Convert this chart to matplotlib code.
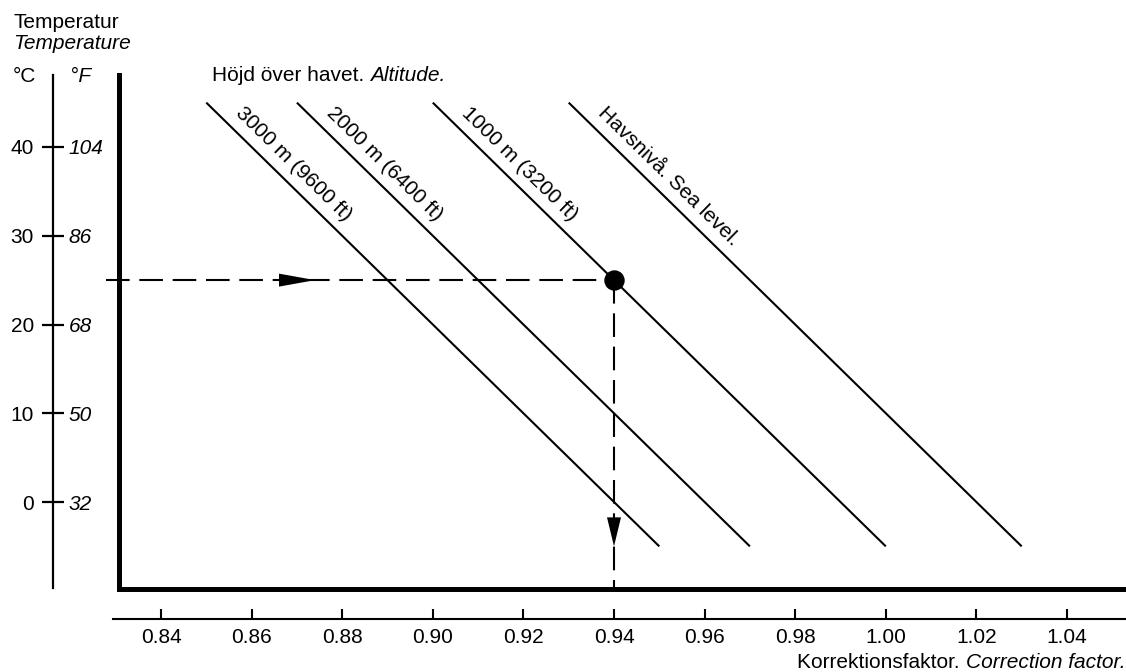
import math
import matplotlib
matplotlib.use("Agg")
import matplotlib.pyplot as plt
import matplotlib.transforms as mtransforms
from matplotlib.patches import Polygon

plt.rcParams['font.family'] = ['Liberation Sans', 'DejaVu Sans']
plt.rcParams['lines.scale_dashes'] = False

# ---- data -------------------------------------------------------------
altitude_labels = ["3000 m (9600 ft)", "2000 m (6400 ft)",
                   "1000 m (3200 ft)", "Havsnivå. Sea level."]
line_temps = [45, -5]                      # °C at the two ends of each line
factor_at_warm = [0.85, 0.87, 0.90, 0.93]  # correction factor at 45 °C
factor_at_cold = [0.95, 0.97, 1.00, 1.03]  # correction factor at -5 °C

celsius_ticks = [0, 10, 20, 30, 40]
fahrenheit_ticks = [32, 50, 68, 86, 104]
factor_ticks = [0.84, 0.86, 0.88, 0.90, 0.92, 0.94, 0.96, 0.98, 1.00, 1.02, 1.04]
factor_tick_labels = ["0.84", "0.86", "0.88", "0.90", "0.92", "0.94",
                      "0.96", "0.98", "1.00", "1.02", "1.04"]

# worked example: 25 °C at 1000 m gives a factor of 0.94
example_temp = 25
example_factor = 0.94
arrow_tip_factor = 0.874
arrow_tip_temp = -5

# ---- layout ------------------------------------------------------------
W, H, DPI = 1126, 672, 100
FONT = 15


def fx(px):
    return px / W


def fy(py):
    return 1 - py / H


fig = plt.figure(figsize=(W / DPI, H / DPI), dpi=DPI)

# scale: pixels per unit of correction factor / per °C
px_per_factor = 4530.0
px_per_deg = 8.875
ref_px_x, ref_factor = 161, 0.84
ref_px_y, ref_temp = 502, 0

box_left, box_right, box_top, box_bottom = 119, 1126, 75, 589
xlim = (ref_factor + (box_left - ref_px_x) / px_per_factor,
        ref_factor + (box_right - ref_px_x) / px_per_factor)
ylim = (ref_temp + (ref_px_y - box_bottom) / px_per_deg,
        ref_temp + (ref_px_y - box_top) / px_per_deg)

ax = fig.add_axes([fx(box_left), fy(box_bottom),
                   fx(box_right) - fx(box_left), fy(box_top) - fy(box_bottom)])
ax.set_xlim(*xlim)
ax.set_ylim(*ylim)
ax.patch.set_alpha(0)
ax.set_xticks([])
ax.set_yticks([])
for side in ("top", "right"):
    ax.spines[side].set_visible(False)
for side in ("left", "bottom"):
    ax.spines[side].set_linewidth(3.6)
    ax.spines[side].set_capstyle("projecting")

# altitude lines with their labels along them
for lab, fw, fc in zip(altitude_labels, factor_at_warm, factor_at_cold):
    ax.plot([fw, fc], line_temps, color="black", lw=1.5, solid_capstyle="butt")
    p0 = ax.transData.transform((fw, line_temps[0]))
    p1 = ax.transData.transform((fc, line_temps[1]))
    theta = math.atan2(p1[1] - p0[1], p1[0] - p0[0])
    along, perp = 28, 12  # pixels
    dx = along * math.cos(theta) - perp * math.sin(theta)
    dy = along * math.sin(theta) + perp * math.cos(theta)
    ax.annotate(lab, xy=(fw, line_temps[0]), xytext=(dx * 72 / DPI, dy * 72 / DPI),
                textcoords="offset points", rotation=math.degrees(theta),
                rotation_mode="anchor", ha="left", va="baseline", fontsize=FONT)

# reading guides
guide_left = xlim[0] - 13 / px_per_factor
ax.plot([guide_left, example_factor], [example_temp, example_temp], color="black",
        lw=1.5, dashes=(17, 7), clip_on=False)
ax.plot([example_factor, example_factor], [example_temp, ylim[0]], color="black",
        lw=1.5, dashes=(17, 7), clip_on=False)
ax.plot([example_factor], [example_temp], "o", color="black", ms=13.7)


def arrow_head(x, y, verts):
    tr = fig.dpi_scale_trans + mtransforms.ScaledTranslation(x, y, ax.transData)
    ax.add_patch(Polygon(verts, closed=True, facecolor="black", edgecolor="none",
                         transform=tr, clip_on=False))


arrow_head(arrow_tip_factor, example_temp, [(0, 0), (-0.36, 0.065), (-0.36, -0.065)])
arrow_head(example_factor, arrow_tip_temp, [(0, 0), (-0.07, 0.29), (0.07, 0.29)])

# temperature scale (°C left, °F right)
temp_x = 53
ax_t = fig.add_axes([fx(temp_x), fy(box_bottom), 0.0001, fy(box_top) - fy(box_bottom)])
ax_t.set_ylim(*ylim)
ax_t.patch.set_alpha(0)
ax_t.set_xticks([])
for side in ("top", "right", "bottom"):
    ax_t.spines[side].set_visible(False)
ax_t.spines["left"].set_linewidth(1.6)
ax_t.spines["left"].set_bounds(ylim[0] + 0.1, ylim[1])
ax_t.set_yticks(celsius_ticks, labels=[str(t) for t in celsius_ticks])
ax_t.tick_params(axis="y", direction="inout", length=16, width=1.6, pad=5.8,
                 labelsize=FONT)

sec = ax_t.secondary_yaxis("right", functions=(lambda c: c * 9 / 5 + 32,
                                               lambda f: (f - 32) * 5 / 9))
sec.set_yticks(fahrenheit_ticks, labels=[str(f) for f in fahrenheit_ticks],
               fontstyle="italic")
sec.tick_params(axis="y", length=0, pad=11.2, labelsize=FONT)
for side in sec.spines:
    sec.spines[side].set_visible(False)

# correction factor scale
scale_left, scale_y = 113, 619
ax_x = fig.add_axes([fx(scale_left), fy(scale_y), fx(box_right) - fx(scale_left), 0.0001])
ax_x.set_xlim(ref_factor + (scale_left - ref_px_x) / px_per_factor, xlim[1])
ax_x.patch.set_alpha(0)
ax_x.set_yticks([])
for side in ("top", "right", "left"):
    ax_x.spines[side].set_visible(False)
ax_x.spines["bottom"].set_linewidth(1.5)
ax_x.set_xticks(factor_ticks, labels=factor_tick_labels)
ax_x.tick_params(axis="x", direction="in", length=7.2, width=1.5, pad=6.5,
                 labelsize=FONT)

# titles
fig.text(fx(13), fy(28), "Temperatur", fontsize=FONT, va="baseline")
fig.text(fx(13), fy(49), "Temperature", fontsize=FONT, va="baseline", fontstyle="italic")
fig.text(fx(13), fy(82), "°C", fontsize=FONT, va="baseline")
fig.text(fx(70), fy(82), "°F", fontsize=FONT, va="baseline", fontstyle="italic")

renderer = fig.canvas.get_renderer()

t1 = fig.text(fx(212), fy(81), "Höjd över havet. ", fontsize=FONT, va="baseline")
w1 = t1.get_window_extent(renderer)
fig.text(w1.x1 / W, fy(81), "Altitude.", fontsize=FONT, va="baseline", fontstyle="italic")

t2 = fig.text(fx(1125), fy(668), "Correction factor.", fontsize=FONT, va="baseline",
              ha="right", fontstyle="italic")
w2 = t2.get_window_extent(renderer)
fig.text(w2.x0 / W, fy(668), "Korrektionsfaktor. ", fontsize=FONT, va="baseline", ha="right")

fig.savefig("out.png", dpi=DPI)
